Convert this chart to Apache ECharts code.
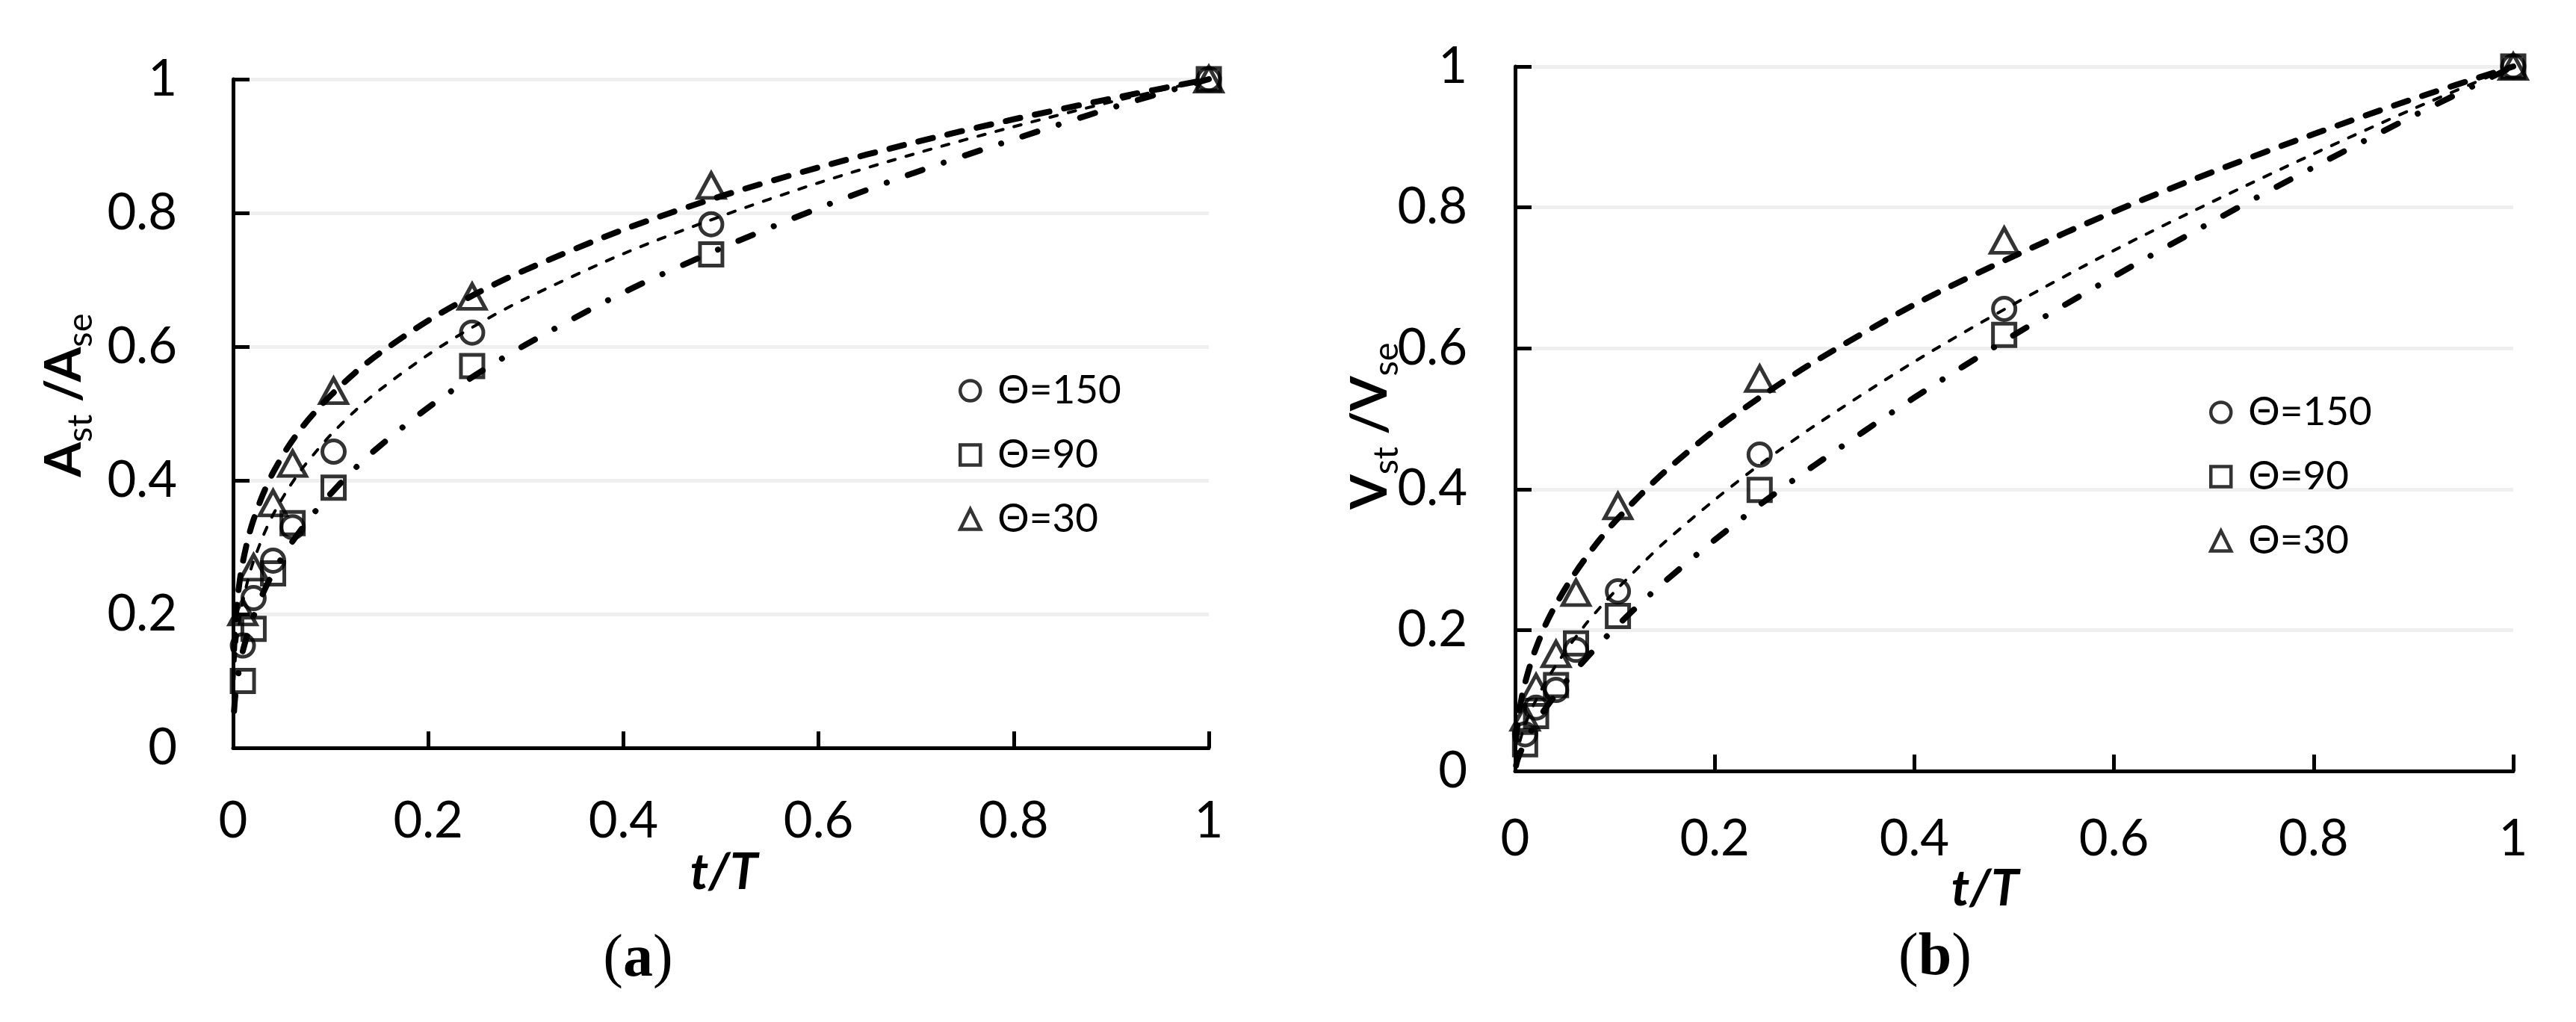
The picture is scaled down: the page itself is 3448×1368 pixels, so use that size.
<!DOCTYPE html>
<html>
<head>
<meta charset="utf-8">
<script src="https://cdn.jsdelivr.net/npm/echarts@6/dist/echarts.min.js"></script>
<style>
  html, body { margin: 0; padding: 0; background: #fff; }
  #chart { width: 3448px; height: 1368px; }
</style>
</head>
<body>
<div id="chart"></div>
<script>
// measured points (t/T)
var tPoints = [0.01, 0.021, 0.041, 0.061, 0.103, 0.245, 0.49, 1];
// (a) Ast/Ase
var a150 = [0.153, 0.224, 0.280, 0.330, 0.443, 0.621, 0.783, 1.0];
var a90  = [0.100, 0.178, 0.261, 0.336, 0.389, 0.571, 0.738, 1.0];
var a30  = [0.203, 0.270, 0.366, 0.425, 0.534, 0.675, 0.841, 1.0];
// (b) Vst/Vse
var b150 = [0.052, 0.090, 0.115, 0.172, 0.255, 0.449, 0.656, 1.0];
var b90  = [0.038, 0.078, 0.122, 0.181, 0.220, 0.399, 0.619, 1.0];
var b30  = [0.076, 0.119, 0.166, 0.253, 0.376, 0.557, 0.753, 1.0];

// trend lines
var fitT = [0.001, 0.002, 0.004, 0.007, 0.01, 0.015, 0.02, 0.03, 0.04, 0.055, 0.07, 0.085, 0.1,
            0.125, 0.15, 0.2, 0.25, 0.3, 0.4, 0.5, 0.6, 0.7, 0.8, 0.9, 1];
var aFit30  = [0.147, 0.178, 0.216, 0.252, 0.278, 0.311, 0.337, 0.377, 0.409, 0.447, 0.478, 0.504, 0.527,
               0.561, 0.590, 0.639, 0.680, 0.715, 0.775, 0.825, 0.868, 0.906, 0.940, 0.971, 1];
var aFit150 = [0.102, 0.129, 0.162, 0.195, 0.219, 0.250, 0.275, 0.314, 0.346, 0.384, 0.416, 0.443, 0.468,
               0.504, 0.535, 0.588, 0.633, 0.672, 0.739, 0.795, 0.845, 0.889, 0.929, 0.966, 1];
var aFit90  = [0.055, 0.074, 0.098, 0.124, 0.145, 0.171, 0.193, 0.229, 0.259, 0.296, 0.327, 0.355, 0.380,
               0.418, 0.451, 0.509, 0.559, 0.603, 0.681, 0.747, 0.807, 0.861, 0.910, 0.957, 1];
var bFit30  = [0.044, 0.061, 0.083, 0.107, 0.125, 0.150, 0.171, 0.206, 0.234, 0.270, 0.301, 0.329, 0.354,
               0.391, 0.425, 0.484, 0.535, 0.581, 0.662, 0.731, 0.794, 0.851, 0.904, 0.954, 1];
var bFit150 = [0.017, 0.025, 0.038, 0.053, 0.065, 0.083, 0.098, 0.125, 0.148, 0.179, 0.207, 0.232, 0.255,
               0.291, 0.325, 0.385, 0.440, 0.490, 0.581, 0.663, 0.739, 0.809, 0.876, 0.940, 1];
var bFit90  = [0.008, 0.014, 0.022, 0.032, 0.041, 0.054, 0.066, 0.088, 0.107, 0.134, 0.158, 0.181, 0.203,
               0.237, 0.269, 0.328, 0.383, 0.434, 0.530, 0.619, 0.702, 0.781, 0.857, 0.930, 1];

var names = ['Θ=150', 'Θ=90', 'Θ=30'];
var FONT = 'Lato';

function pts(xs, ys) {
  return xs.map(function (x, i) { return [x, ys[i]]; });
}

function scatter(name, idx, ys, symbol, size) {
  return {
    name: name,
    type: 'scatter',
    xAxisIndex: idx,
    yAxisIndex: idx,
    symbol: symbol,
    symbolSize: size,
    data: pts(tPoints, ys),
    itemStyle: { color: 'rgba(0,0,0,0)', borderColor: '#000', borderWidth: 5 },
    z: 2
  };
}

function fit(idx, ys, width, dash) {
  return {
    name: 'fit',
    type: 'line',
    xAxisIndex: idx,
    yAxisIndex: idx,
    data: pts(fitT, ys),
    smooth: 0.3,
    symbol: 'none',
    silent: true,
    lineStyle: { color: '#000', width: width, type: dash, cap: 'round' },
    z: 3
  };
}

var thickDash = [20, 20];
var thinDash = [10, 15];
var dashDot = [21, 30, 0.01, 30];

function xAxis(idx, margin) {
  return {
    gridIndex: idx, type: 'value', min: 0, max: 1, interval: 0.2,
    axisLine: { show: true, onZero: false, lineStyle: { color: '#000', width: 5 } },
    axisTick: { show: true, inside: true, length: 22, lineStyle: { color: '#000', width: 5 } },
    axisLabel: { fontSize: 67, fontFamily: FONT, color: '#000', margin: margin },
    splitLine: { show: false }
  };
}

function yAxis(idx, margin) {
  return {
    gridIndex: idx, type: 'value', min: 0, max: 1, interval: 0.2,
    axisLine: { show: true, onZero: false, lineStyle: { color: '#000', width: 5 } },
    axisTick: { show: true, inside: true, length: 22, lineStyle: { color: '#000', width: 5 } },
    axisLabel: { fontSize: 67, fontFamily: FONT, color: '#000', margin: margin },
    splitLine: { show: true, lineStyle: { color: '#efefef', width: 5 } }
  };
}

function legend(left, top) {
  return {
    data: names,
    orient: 'vertical',
    left: left,
    top: top,
    itemWidth: 27,
    itemHeight: 27,
    itemGap: 30,
    selectedMode: false,
    itemStyle: { color: 'rgba(0,0,0,0)', borderColor: '#000', borderWidth: 4.5 },
    textStyle: { fontSize: 53, lineHeight: 56, fontFamily: FONT, color: '#000', padding: [0, 0, 0, 18] }
  };
}

var subRich = {
  m: { fontFamily: FONT, fontWeight: 'bold', fontSize: 67, lineHeight: 67, verticalAlign: 'top', color: '#000' },
  s: { fontFamily: FONT, fontSize: 47, lineHeight: 47, verticalAlign: 'top', padding: [32, 0, 0, 0], color: '#000' }
};
var capRich = {
  p: { fontFamily: 'Liberation Serif', fontSize: 80, color: '#000' },
  b: { fontFamily: 'Liberation Serif', fontSize: 80, fontWeight: 'bold', color: '#000' }
};

function label(x, y, text, extra) {
  var style = {
    text: text, x: 0, y: 0,
    align: 'center', verticalAlign: 'middle',
    textAlign: 'center', textVerticalAlign: 'middle',
    fill: '#000'
  };
  for (var k in extra) style[k] = extra[k];
  return { type: 'text', x: x, y: y, rotation: extra.rot || 0, style: style, silent: true };
}

var chart = echarts.init(document.getElementById('chart'), null, { renderer: 'canvas' });
chart.setOption({
  backgroundColor: '#fff',
  animation: false,
  grid: [
    { left: 312, top: 106, width: 1306, height: 895 },
    { left: 2028, top: 89, width: 1336, height: 943 }
  ],
  xAxis: [xAxis(0, 65), xAxis(1, 58)],
  yAxis: [yAxis(0, 75), yAxis(1, 64)],
  legend: [legend(1278, 490), legend(2952, 519)],
  graphic: [
    label(86, 529, '{m|A}{s|st}{m| /A}{s|se}', { rich: subRich, rot: Math.PI / 2 }),
    label(1834, 570, '{m|V}{s|st}{m| /V}{s|se}', { rich: subRich, rot: Math.PI / 2 }),
    label(969, 1168, 't/T', { font: 'italic bold 67px Lato' }),
    label(2657, 1190, 't/T', { font: 'italic bold 67px Lato' }),
    label(854, 1285, '{p|(}{b|a}{p|)}', { rich: capRich }),
    label(2590, 1283, '{p|(}{b|b}{p|)}', { rich: capRich })
  ],
  series: [
    scatter(names[0], 0, a150, 'circle', 30),
    scatter(names[1], 0, a90, 'rect', 30),
    scatter(names[2], 0, a30, 'triangle', [36, 33]),
    fit(0, aFit30, 8, thickDash),
    fit(0, aFit150, 4, thinDash),
    fit(0, aFit90, 8, dashDot),
    scatter(names[0], 1, b150, 'circle', 30),
    scatter(names[1], 1, b90, 'rect', 30),
    scatter(names[2], 1, b30, 'triangle', [36, 33]),
    fit(1, bFit30, 8, thickDash),
    fit(1, bFit150, 4, thinDash),
    fit(1, bFit90, 8, dashDot)
  ]
});
</script>
</body>
</html>
